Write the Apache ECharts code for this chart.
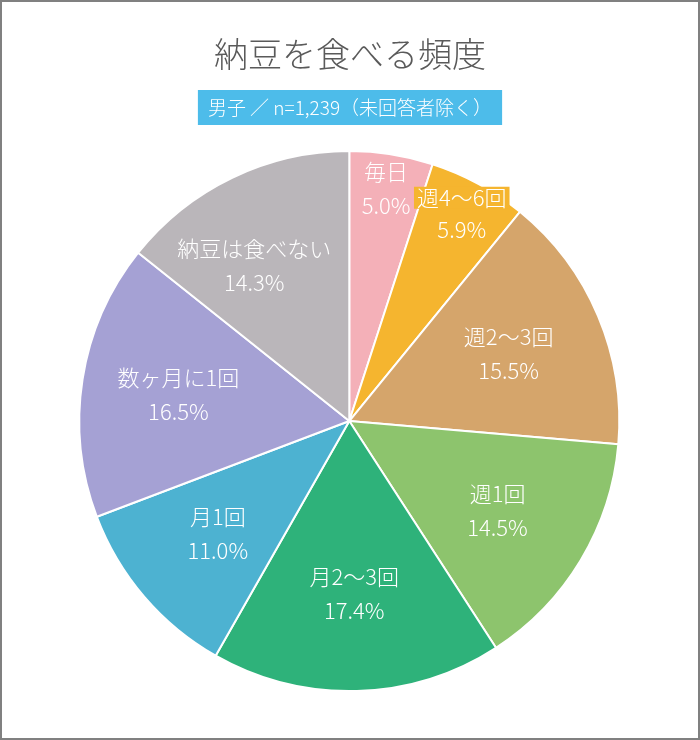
<!DOCTYPE html>
<html>
<head>
    <meta charset="utf-8">
    <title>納豆を食べる頻度</title>
    <style>
        html, body { margin: 0; padding: 0; background: #fff; }
        #chart1 { width: 700px; height: 740px; }
    </style>
</head>
<body>
<div id="chart1"></div>
<script src="https://cdn.jsdelivr.net/npm/echarts@6/dist/echarts.min.js"></script>
<script type="text/javascript">
    // 回答区分と割合(%)
    const categories = ['毎日', '週4〜6回', '週2〜3回', '週1回', '月2〜3回', '月1回', '数ヶ月に1回', '納豆は食べない'];
    const shares = [5.0, 5.9, 15.5, 14.5, 17.4, 11.0, 16.5, 14.3];
    const colors = ['#F4B0B8', '#F5B52F', '#D5A56B', '#8DC46D', '#2EB27A', '#4DB2D1', '#A5A1D4', '#BAB6BA'];
    // 外側に寄せてラベルを置く小さな区分
    const smallSlices = ['毎日', '週4〜6回'];

    const font = '"Noto Sans CJK JP", "Noto Sans", sans-serif';
    const center = ['49.9%', '56.9%'];

    let myChart1 = echarts.init(document.getElementById('chart1'));

    function labelData(outer) {
        return categories.map((name, i) => {
            const label = { show: smallSlices.includes(name) === outer };
            // 長いラベルは隣の区分にかからないよう少し左へ
            if (name === '納豆は食べない') label.offset = [-20, 0];
            return { name: name, value: shares[i], label: label };
        });
    }

    const labelStyle = {
        position: 'inside',
        color: '#fff',
        fontFamily: font,
        fontSize: 22,
        fontWeight: 300,
        lineHeight: 34,
        formatter: (p) => {
            const head = p.name === '週4〜6回' ? '{b|' + p.name + '}' : p.name;
            return head + '\n' + p.value.toFixed(1) + '%';
        },
        rich: {
            b: {
                color: '#fff',
                fontFamily: font,
                fontSize: 22,
                fontWeight: 300,
                lineHeight: 30,
                backgroundColor: '#F5B52F',
                padding: [0, 3, 0, 3]
            }
        }
    };

    const ghost = {
        type: 'pie',
        center: center,
        startAngle: 90,
        silent: true,
        z: 5,
        itemStyle: { color: 'rgba(0,0,0,0)', borderWidth: 0 },
        emphasis: { disabled: true },
        labelLine: { show: false }
    };

    myChart1.setOption({
        color: colors,
        animation: false,
        graphic: [{
            type: 'rect',
            shape: { x: 1, y: 1, width: 698, height: 738 },
            style: { fill: 'none', stroke: '#808080', lineWidth: 2 }
        }],
        title: [{
            text: '納豆を食べる頻度',
            left: 'center',
            top: 32,
            textStyle: { fontFamily: font, fontSize: 34, fontWeight: 300, color: '#5a5a5a' }
        }, {
            text: '男子 ／ n=1,239（未回答者除く）',
            left: 'center',
            top: 90,
            backgroundColor: '#4DBCEA',
            padding: [8, 10, 8, 10],
            textStyle: { fontFamily: font, fontSize: 19, fontWeight: 300, color: '#fff' }
        }],
        series: [
            {
                name: '納豆を食べる頻度',
                type: 'pie',
                radius: 270,
                center: center,
                startAngle: 90,
                itemStyle: { borderColor: '#fff', borderWidth: 2 },
                label: { show: false },
                labelLine: { show: false },
                emphasis: { disabled: true },
                data: categories.map((name, i) => ({ name: name, value: shares[i] }))
            },
            Object.assign({}, ghost, {
                radius: [96, 244],
                label: labelStyle,
                data: labelData(false)
            }),
            Object.assign({}, ghost, {
                radius: [180, 284],
                label: labelStyle,
                data: labelData(true)
            })
        ]
    });
</script>
</body>
</html>
